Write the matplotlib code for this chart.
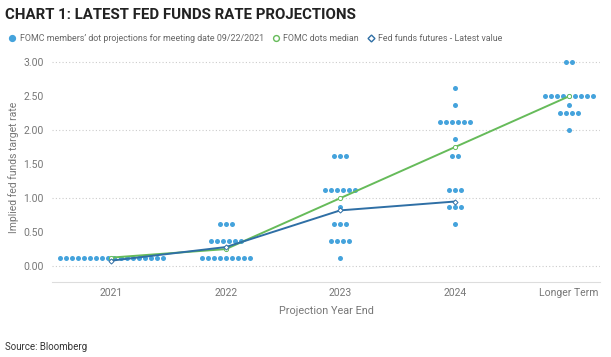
import matplotlib.pyplot as plt
from matplotlib.lines import Line2D

plt.rcParams['font.family'] = ['Roboto', 'DejaVu Sans']

categories = ["2021", "2022", "2023", "2024", "Longer Term"]

# FOMC dot projections: rate levels and number of members at each level
dot_levels = [
    [0.125],
    [0.125, 0.375, 0.625],
    [0.125, 0.375, 0.625, 0.875, 1.125, 1.625],
    [0.625, 0.875, 1.125, 1.625, 1.875, 2.125, 2.375, 2.625],
    [2.0, 2.25, 2.375, 2.5, 3.0],
]
dot_counts = [
    [18],
    [9, 6, 3],
    [1, 4, 3, 1, 6, 3],
    [1, 3, 3, 2, 1, 6, 1, 1],
    [1, 4, 1, 9, 2],
]

median = [0.125, 0.25, 1.0, 1.75, 2.5]
futures = [0.08, 0.28, 0.82, 0.95]

c_dots = '#45a3dc'
c_med = '#66bb5a'
c_fut = '#2f6fa5'
grey = '#777777'

fig = plt.figure(figsize=(6.11, 3.57), dpi=100)
ax = fig.add_axes([0.085, 0.21, 0.897, 0.644])

# beeswarm style horizontal spread of the dots
spacing = 0.053
xs, ys = [], []
for i, (levels, counts) in enumerate(zip(dot_levels, dot_counts)):
    for lv, n in zip(levels, counts):
        for k in range(n):
            xs.append(i + (k - (n - 1) / 2) * spacing)
            ys.append(lv)
ax.scatter(xs, ys, s=13, color=c_dots, linewidths=0, zorder=2)

ax.plot(range(len(median)), median, color=c_med, lw=1.4, marker='o', ms=3,
        mfc='white', mec=c_med, mew=0.7, zorder=3)
ax.plot(range(len(futures)), futures, color=c_fut, lw=1.4, marker='D', ms=2.6,
        mfc='white', mec=c_fut, mew=0.7, zorder=4)

ax.set_xlim(-0.52, 4.27)
ax.set_ylim(-0.235, 3.15)
ax.set_xticks(range(len(categories)))
ax.set_xticklabels(categories)
ax.set_yticks([0, 0.5, 1, 1.5, 2, 2.5, 3])
ax.set_yticklabels([f"{v:.2f}" for v in [0, 0.5, 1, 1.5, 2, 2.5, 3]])
for v in [0, 1, 2, 3]:
    ax.axhline(v, color='#cccccc', lw=0.8, ls=(0, (1, 2)), zorder=1)

ax.tick_params(length=0, labelsize=7.5, labelcolor=grey, pad=6)
ax.tick_params(axis='x', pad=4)
for s in ['top', 'right', 'left']:
    ax.spines[s].set_visible(False)
ax.spines['bottom'].set_color('#dddddd')

ax.set_xlabel("Projection Year End", fontsize=7.8, color=grey, labelpad=6)
ax.set_ylabel("Implied fed funds target rate", fontsize=7.5, color=grey, labelpad=3)

fig.text(0.008, 0.958, "CHART 1: LATEST FED FUNDS RATE PROJECTIONS",
         fontsize=10.8, fontweight='bold', color='#222222', va='center')

handles = [
    Line2D([], [], ls='none', marker='o', ms=4.2, mfc=c_dots, mec=c_dots),
    Line2D([], [], ls='none', marker='o', ms=4.2, mfc='white', mec=c_med),
    Line2D([], [], ls='none', marker='D', ms=3.5, mfc='white', mec=c_fut),
]
labels = ["FOMC members\u2019 dot projections for meeting date 09/22/2021",
          "FOMC dots median", "Fed funds futures - Latest value"]
leg = fig.legend(handles, labels, loc='center left', bbox_to_anchor=(0.003, 0.893),
                 ncol=3, frameon=False, fontsize=6.4, handlelength=0.6,
                 handletextpad=0.5, columnspacing=1.1)
for t in leg.get_texts():
    t.set_color('#666666')

fig.text(0.008, 0.028, "Source: Bloomberg", fontsize=7, color='#333333', va='center')

fig.savefig('out.png', dpi=100)
